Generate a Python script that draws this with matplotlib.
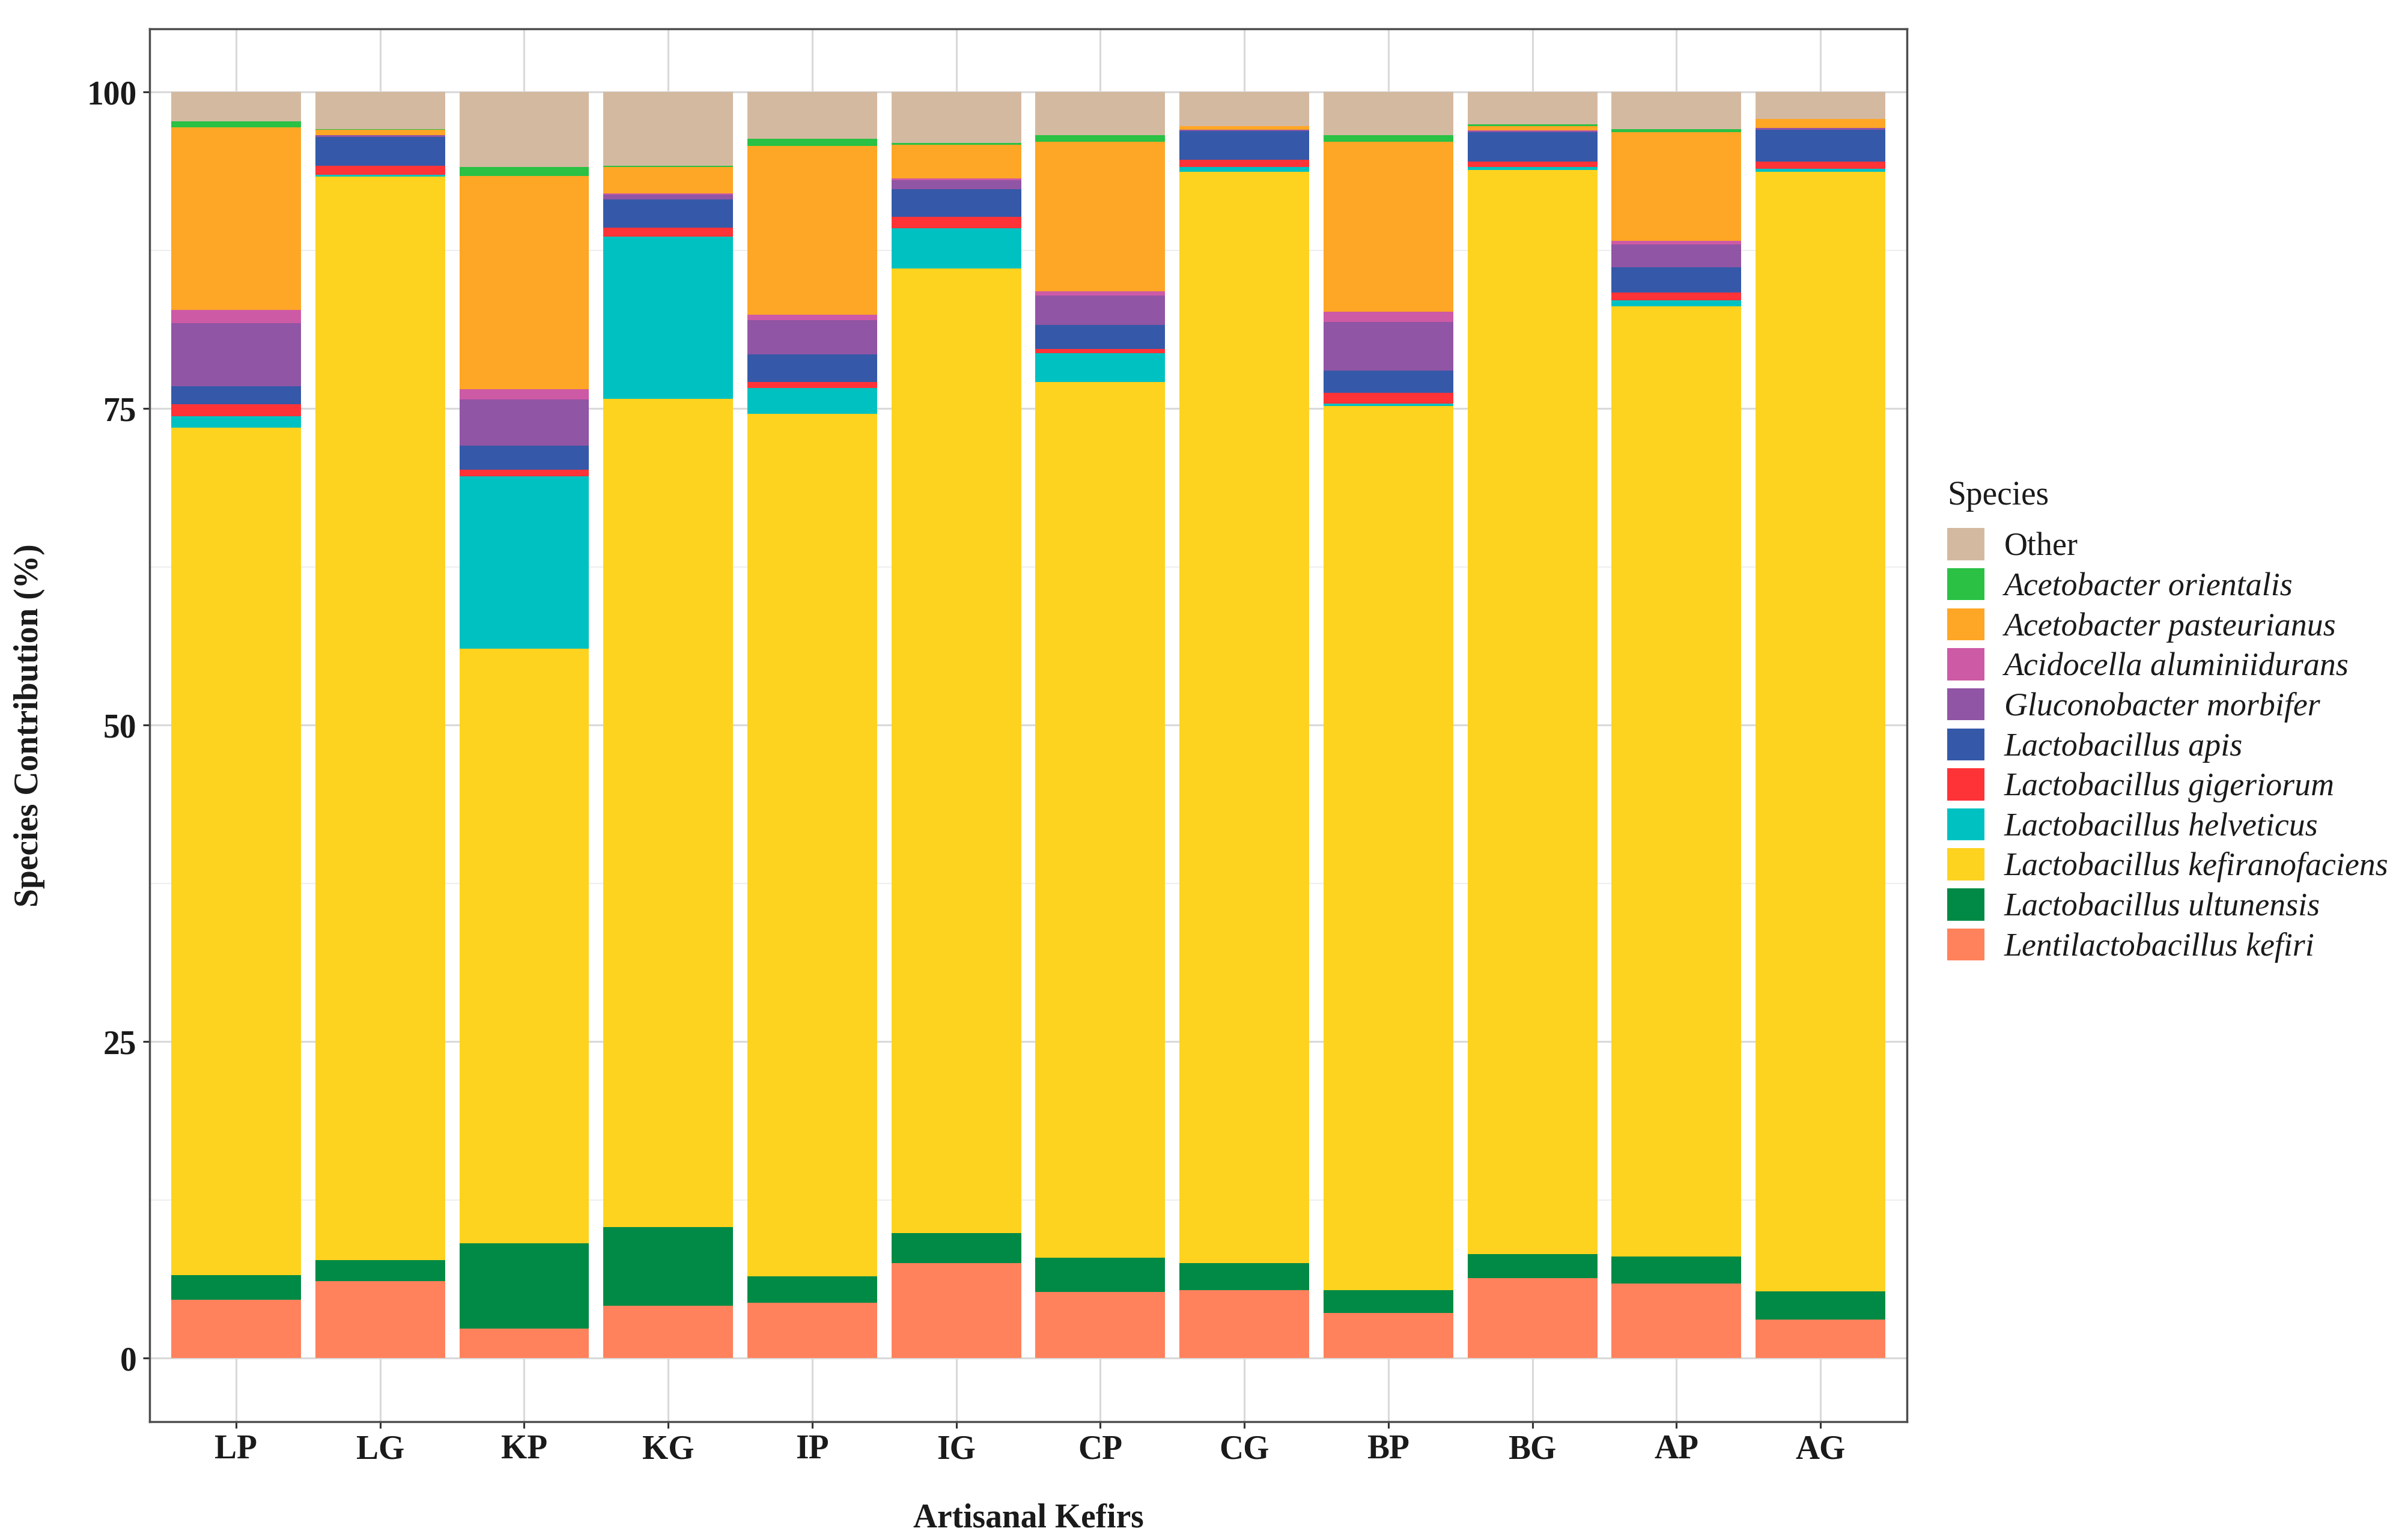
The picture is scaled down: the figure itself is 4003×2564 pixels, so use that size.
import numpy as np
import matplotlib.pyplot as plt

plt.rcParams['font.family'] = ['Liberation Serif', 'DejaVu Serif']

samples = ['LP', 'LG', 'KP', 'KG', 'IP', 'IG', 'CP', 'CG', 'BP', 'BG', 'AP', 'AG']

# species contributions (%) per kefir, listed bottom -> top of the stack
lentilacto_kefiri = [4.60, 6.08, 2.34, 4.15, 4.38, 7.52, 5.23, 5.40, 3.59, 6.32, 5.88, 3.05]
l_ultunensis = [1.95, 1.68, 6.73, 6.23, 2.08, 2.35, 2.70, 2.10, 1.81, 1.93, 2.18, 2.23]
l_kefiranofaciens = [66.97, 85.57, 46.98, 65.40, 68.14, 76.21, 69.19, 86.19, 69.81, 85.58, 75.03, 88.41]
l_helveticus = [0.88, 0.14, 13.59, 12.82, 2.03, 3.18, 2.24, 0.38, 0.21, 0.24, 0.47, 0.25]
l_gigeriorum = [0.94, 0.70, 0.53, 0.68, 0.47, 0.91, 0.34, 0.61, 0.83, 0.46, 0.59, 0.59]
l_apis = [1.44, 2.31, 1.91, 2.25, 2.18, 2.18, 1.91, 2.25, 1.76, 2.33, 2.02, 2.48]
g_morbifer = [4.98, 0.13, 3.64, 0.37, 2.69, 0.70, 2.31, 0.08, 3.85, 0.05, 1.80, 0.17]
a_aluminiidurans = [1.06, 0.00, 0.81, 0.09, 0.47, 0.15, 0.34, 0.00, 0.81, 0.06, 0.29, 0.00]
a_pasteurianus = [14.40, 0.40, 16.84, 2.08, 13.32, 2.65, 11.84, 0.32, 13.43, 0.36, 8.58, 0.72]
a_orientalis = [0.49, 0.07, 0.70, 0.10, 0.57, 0.12, 0.49, 0.00, 0.49, 0.11, 0.24, 0.00]
other = [2.29, 2.92, 5.93, 5.83, 3.67, 4.03, 3.41, 2.67, 3.41, 2.56, 2.92, 2.10]

species = ['Lentilactobacillus kefiri', 'Lactobacillus ultunensis', 'Lactobacillus kefiranofaciens',
           'Lactobacillus helveticus', 'Lactobacillus gigeriorum', 'Lactobacillus apis',
           'Gluconobacter morbifer', 'Acidocella aluminiidurans', 'Acetobacter pasteurianus',
           'Acetobacter orientalis', 'Other']
series = [lentilacto_kefiri, l_ultunensis, l_kefiranofaciens, l_helveticus, l_gigeriorum, l_apis,
          g_morbifer, a_aluminiidurans, a_pasteurianus, a_orientalis, other]
colors = ['#FF825D', '#008A45', '#FDD31F', '#00C1C1', '#FE3338', '#3559A8',
          '#9055A4', '#CD5AA5', '#FEA626', '#2AC145', '#D4B9A1']

fig = plt.figure(figsize=(16.016, 10.256), dpi=250)
ax = fig.add_axes([0.0622, 0.0769, 0.7305, 0.9044])

x = np.arange(len(samples))
bottom = np.zeros(len(samples))
handles = []
for name, vals, col in zip(species, series, colors):
    vals = np.array(vals)
    b = ax.bar(x, vals, width=0.9, bottom=bottom, color=col, linewidth=0, label=name)
    handles.append(b)
    bottom += vals

ax.set_xlim(-0.6, len(samples) - 0.4)
ax.set_ylim(-5, 105)
ax.set_xticks(x)
ax.set_xticklabels(samples, fontweight='bold', fontsize=16)
ax.set_yticks([0, 25, 50, 75, 100])
ax.set_yticklabels(['0', '25', '50', '75', '100'], fontweight='bold', fontsize=16)
ax.set_yticks([12.5, 37.5, 62.5, 87.5], minor=True)

ax.set_axisbelow(True)
ax.grid(which='major', axis='both', color='#d9d9d9', linewidth=0.9)
ax.grid(which='minor', axis='y', color='#ececec', linewidth=0.5)
ax.tick_params(which='major', direction='out', length=3.2, width=0.9, color='#333333',
               labelcolor='#1a1a1a', pad=3)
ax.tick_params(which='minor', length=0)
for s in ax.spines.values():
    s.set_color('#4d4d4d')
    s.set_linewidth(1.0)

ax.set_xlabel('Artisanal Kefirs', fontweight='bold', fontsize=16, labelpad=18, color='#1a1a1a')
ax.set_ylabel('Species Contribution (%)', fontweight='bold', fontsize=16, labelpad=20, color='#1a1a1a')

# legend title placed separately so the gap to the first key matches
fig.text(0.8094, 0.678, 'Species', fontsize=16, color='#1a1a1a', ha='left', va='center')
leg = fig.legend(handles[::-1], species[::-1], loc='upper left', bbox_to_anchor=(0.8094, 0.657),
                 frameon=False, fontsize=15.5, handlelength=1.15, handleheight=1.15,
                 labelspacing=0.18, handletextpad=0.62, borderpad=0, borderaxespad=0)
for t in leg.get_texts():
    if t.get_text() != 'Other':
        t.set_fontstyle('italic')
    t.set_color('#1a1a1a')

fig.savefig('out.png', dpi=250)
